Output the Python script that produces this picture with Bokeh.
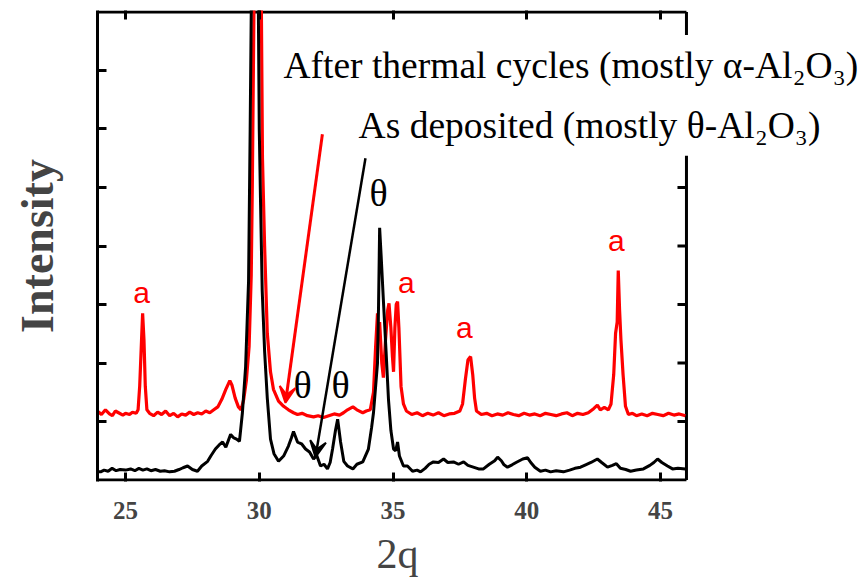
import math
from bokeh.plotting import figure
from bokeh.models import Range1d, LinearAxis, FixedTicker, Label, Arrow, VeeHead, Title
from bokeh.embed import file_html
from bokeh.resources import INLINE

# ---- data ----
two_theta_black = [23.98, 24.07, 24.2, 24.35, 24.5, 24.65, 24.8, 25.0, 25.19, 25.35, 25.5, 25.65, 25.8, 25.95,
                   26.12, 26.3, 26.46, 26.65, 26.83, 27.0, 27.15, 27.32, 27.5, 27.69, 27.85, 28.07, 28.2, 28.36,
                   28.5, 28.63, 28.75, 28.93, 29.05, 29.15, 29.26, 29.37, 29.49, 29.6, 29.66, 29.72, 29.85, 29.95,
                   30.0, 30.05, 30.11, 30.2, 30.3, 30.42, 30.55, 30.72, 30.91, 31.09, 31.2, 31.28, 31.43, 31.58,
                   31.73, 31.88, 32.03, 32.15, 32.29, 32.42, 32.55, 32.65, 32.74, 32.85, 32.93, 33.04, 33.16, 33.3,
                   33.5, 33.65, 33.87, 34.08, 34.2, 34.27, 34.35, 34.42, 34.46, 34.5, 34.56, 34.64, 34.74, 34.83,
                   34.92, 35.02, 35.1, 35.17, 35.24, 35.39, 35.54, 35.73, 35.9, 36.03, 36.2, 36.35, 36.51, 36.7,
                   36.89, 37.05, 37.26, 37.45, 37.64, 37.8, 38.0, 38.2, 38.38, 38.6, 38.8, 38.91, 39.05, 39.15,
                   39.28, 39.45, 39.6, 39.85, 40.03, 40.15, 40.3, 40.51, 40.7, 40.89, 41.1, 41.37, 41.6, 41.8,
                   42.01, 42.2, 42.4, 42.64, 42.8, 43.02, 43.2, 43.35, 43.5, 43.7, 43.88, 44.1, 44.36, 44.6,
                   44.75, 44.89, 45.05, 45.26, 45.45, 45.65, 45.93]
intensity_black = [0.14, 0.14, 0.17, 0.15, 0.2, 0.16, 0.18, 0.17, 0.19, 0.16, 0.2, 0.17, 0.19, 0.16,
                   0.18, 0.15, 0.16, 0.14, 0.15, 0.18, 0.21, 0.24, 0.18, 0.15, 0.24, 0.32, 0.42, 0.53,
                   0.6, 0.65, 0.56, 0.78, 0.72, 0.7, 0.66, 1.15, 1.94, 3.4, 6.0, 9.0, 12.0, 9.0,
                   6.0, 4.7, 3.24, 2.2, 1.4, 0.7, 0.45, 0.32, 0.41, 0.58, 0.72, 0.83, 0.65, 0.62,
                   0.53, 0.48, 0.36, 0.42, 0.24, 0.27, 0.19, 0.3, 0.53, 0.85, 1.04, 0.65, 0.32, 0.24,
                   0.19, 0.27, 0.31, 0.53, 0.9, 1.15, 1.6, 2.0, 3.0, 4.31, 3.8, 3.07, 2.2, 1.38,
                   0.85, 0.53, 0.5, 0.65, 0.41, 0.24, 0.24, 0.15, 0.17, 0.14, 0.2, 0.27, 0.31, 0.3,
                   0.36, 0.3, 0.31, 0.27, 0.31, 0.25, 0.22, 0.19, 0.19, 0.27, 0.33, 0.39, 0.33, 0.26,
                   0.22, 0.26, 0.3, 0.36, 0.38, 0.3, 0.22, 0.15, 0.17, 0.14, 0.16, 0.14, 0.17, 0.2,
                   0.22, 0.26, 0.3, 0.36, 0.3, 0.22, 0.25, 0.28, 0.2, 0.18, 0.15, 0.17, 0.19, 0.25,
                   0.3, 0.36, 0.3, 0.24, 0.19, 0.2, 0.19]

two_theta_red = [23.98, 24.1, 24.25, 24.4, 24.51, 24.62, 24.74, 24.9, 25.0, 25.15, 25.26, 25.4, 25.47, 25.53,
                 25.6, 25.64, 25.69, 25.74, 25.8, 25.9, 26.05, 26.2, 26.35, 26.5, 26.65, 26.8, 26.95, 27.1,
                 27.25, 27.4, 27.55, 27.7, 27.85, 28.0, 28.15, 28.3, 28.45, 28.6, 28.75, 28.9, 28.98, 29.1,
                 29.22, 29.32, 29.42, 29.52, 29.62, 29.7, 29.74, 29.8, 29.97, 30.08, 30.12, 30.2, 30.3, 30.42,
                 30.53, 30.72, 30.91, 31.09, 31.28, 31.43, 31.6, 31.8, 32.03, 32.2, 32.4, 32.6, 32.8, 33.0,
                 33.15, 33.3, 33.5, 33.65, 33.87, 34.0, 34.15, 34.27, 34.35, 34.42, 34.45, 34.5, 34.58, 34.64,
                 34.72, 34.8, 34.85, 34.92, 34.98, 35.02, 35.07, 35.12, 35.17, 35.22, 35.3, 35.39, 35.5, 35.7,
                 35.9, 36.1, 36.3, 36.5, 36.7, 36.9, 37.1, 37.3, 37.5, 37.6, 37.7, 37.8, 37.9, 37.98,
                 38.05, 38.12, 38.3, 38.5, 38.7, 38.9, 39.1, 39.3, 39.5, 39.7, 39.9, 40.1, 40.3, 40.5,
                 40.7, 40.9, 41.1, 41.3, 41.5, 41.7, 41.9, 42.1, 42.3, 42.5, 42.64, 42.75, 42.9, 43.05,
                 43.15, 43.25, 43.32, 43.38, 43.42, 43.47, 43.52, 43.6, 43.69, 43.8, 43.95, 44.1, 44.3, 44.5,
                 44.7, 44.9, 45.1, 45.3, 45.5, 45.7, 45.93]
intensity_red = [1.17, 1.12, 1.2, 1.13, 1.1, 1.18, 1.15, 1.11, 1.14, 1.12, 1.16, 1.14, 1.2, 1.6,
                 2.4, 2.85, 2.4, 1.6, 1.2, 1.14, 1.1, 1.16, 1.12, 1.18, 1.1, 1.14, 1.08, 1.13,
                 1.11, 1.16, 1.12, 1.15, 1.13, 1.18, 1.15, 1.2, 1.25, 1.38, 1.55, 1.7, 1.62, 1.4,
                 1.25, 1.2, 1.38, 1.71, 2.28, 3.5, 5.0, 8.0, 12.0, 8.0, 5.5, 4.0, 2.51, 1.85,
                 1.55, 1.35, 1.26, 1.2, 1.15, 1.12, 1.14, 1.1, 1.08, 1.1, 1.07, 1.1, 1.13, 1.11,
                 1.15, 1.2, 1.25, 1.2, 1.15, 1.18, 1.2, 1.5, 2.28, 2.85, 2.5, 2.7, 2.0, 1.75,
                 2.4, 2.9, 3.02, 2.6, 2.1, 1.85, 2.6, 3.0, 3.05, 2.6, 1.6, 1.3, 1.18, 1.12,
                 1.15, 1.1, 1.14, 1.11, 1.15, 1.1, 1.13, 1.14, 1.18, 1.3, 1.7, 2.05, 2.11, 1.8,
                 1.4, 1.18, 1.12, 1.14, 1.1, 1.13, 1.11, 1.15, 1.12, 1.1, 1.14, 1.11, 1.13, 1.1,
                 1.14, 1.12, 1.1, 1.13, 1.15, 1.1, 1.14, 1.12, 1.15, 1.22, 1.28, 1.2, 1.24, 1.2,
                 1.3, 1.8, 2.51, 2.7, 3.58, 2.9, 2.4, 1.8, 1.26, 1.12, 1.14, 1.1, 1.13, 1.1,
                 1.14, 1.12, 1.1, 1.14, 1.11, 1.13, 1.1]

x_ticks = [25, 30, 35, 40, 45]
y_ticks = [1, 2, 3, 4, 5, 6, 7]

alpha_peaks_x = [25.6, 35.5, 37.67, 43.35]
alpha_peaks_y = [3.2, 3.38, 2.6, 4.1]
theta_marks_x = [34.46, 31.62, 33.04]
theta_marks_y = [4.9, 1.63, 1.63]

X_MIN, X_MAX = 23.953, 45.97      # extent of the plotted 2q axis
Y_MIN, Y_MAX = 0.0, 8.0           # extent of the intensity axis
X_VIEW_MAX = 52.7                 # frame extends right so the captions are not clipped

SERIF = "Liberation Serif"

p = figure(width=868, height=587, output_backend="svg", toolbar_location=None,
           x_range=Range1d(X_MIN, X_VIEW_MAX), y_range=Range1d(Y_MIN - 0.025, Y_MAX + 0.025),
           min_border_left=97, min_border_right=2, min_border_top=10, min_border_bottom=106,
           x_axis_location=None, y_axis_location=None)
p.grid.visible = False
p.outline_line_color = None
p.background_fill_color = "white"
p.border_fill_color = "white"


def style_axis(ax, ticks, show_labels, show_line):
    ax.ticker = FixedTicker(ticks=ticks)
    ax.axis_line_width = 3
    ax.axis_line_color = "black" if show_line else None
    ax.major_tick_in = 9
    ax.major_tick_out = 0
    ax.major_tick_line_width = 3
    ax.minor_tick_line_color = None
    if not show_labels:
        ax.major_label_text_font_size = "0px"
        ax.major_label_standoff = 0


xb = LinearAxis()
style_axis(xb, x_ticks, True, False)
xb.major_label_text_font = SERIF
xb.major_label_text_font_style = "bold"
xb.major_label_text_font_size = "25px"
xb.major_label_standoff = 20
p.add_layout(xb, "below")
p.add_layout(Title(text="2q", align="left", offset=279, standoff=14,
                   text_font=SERIF, text_font_style="normal", text_font_size="42px"), "below")

yl = LinearAxis(axis_label="Intensity")
style_axis(yl, y_ticks, False, True)
yl.axis_label_text_font = SERIF
yl.axis_label_text_font_style = "bold"
yl.axis_label_text_font_size = "46px"
yl.axis_label_standoff = 35
p.add_layout(yl, "left")

xt = LinearAxis()
style_axis(xt, x_ticks, False, False)
p.add_layout(xt, "above")

# box edges of the 2q axis (bottom, top, right) and right-hand ticks
p.segment(x0=[X_MIN, X_MIN, X_MAX], y0=[Y_MIN, Y_MAX, Y_MIN],
          x1=[X_MAX, X_MAX, X_MAX], y1=[Y_MIN, Y_MAX, Y_MAX],
          line_color="black", line_width=3)
p.ray(x=[X_MAX] * len(y_ticks), y=y_ticks, length=9, length_units="screen",
      angle=math.pi, line_color="black", line_width=3)

p.line(two_theta_red, intensity_red, line_color="#ff0000", line_width=3.2)
p.line(two_theta_black, intensity_black, line_color="black", line_width=3)

for x, y in zip(alpha_peaks_x, alpha_peaks_y):
    p.add_layout(Label(x=x, y=y, text="a", text_color="#ff0000", text_font="Liberation Sans",
                       text_font_size="30px", text_align="center", text_baseline="middle"))
for x, y in zip(theta_marks_x, theta_marks_y):
    p.add_layout(Label(x=x, y=y, text="θ", text_color="black", text_font=SERIF,
                       text_font_size="38px", text_align="center", text_baseline="middle"))

p.add_layout(Arrow(x_start=32.36, y_start=5.91, x_end=30.98, y_end=1.32,
                   line_color="#ff0000", line_width=3,
                   end=VeeHead(size=16, line_color="#ff0000", fill_color="#ff0000", line_width=2)))
p.add_layout(Arrow(x_start=33.97, y_start=5.5, x_end=32.1, y_end=0.39,
                   line_color="black", line_width=2.5,
                   end=VeeHead(size=16, line_color="black", fill_color="black", line_width=2)))

p.add_layout(Label(x=30.53, y=7.085, text="After thermal cycles (mostly α-Al₂O₃)",
                   text_font=SERIF, text_font_size="37.5px", text_color="black",
                   text_align="left", text_baseline="alphabetic",
                   background_fill_color="white", padding=10))
p.add_layout(Label(x=33.34, y=6.065, text="As deposited (mostly θ-Al₂O₃)",
                   text_font=SERIF, text_font_size="37.5px", text_color="black",
                   text_align="left", text_baseline="alphabetic",
                   background_fill_color="white", padding=10))

open("out.html", "w").write(file_html(p, INLINE))
